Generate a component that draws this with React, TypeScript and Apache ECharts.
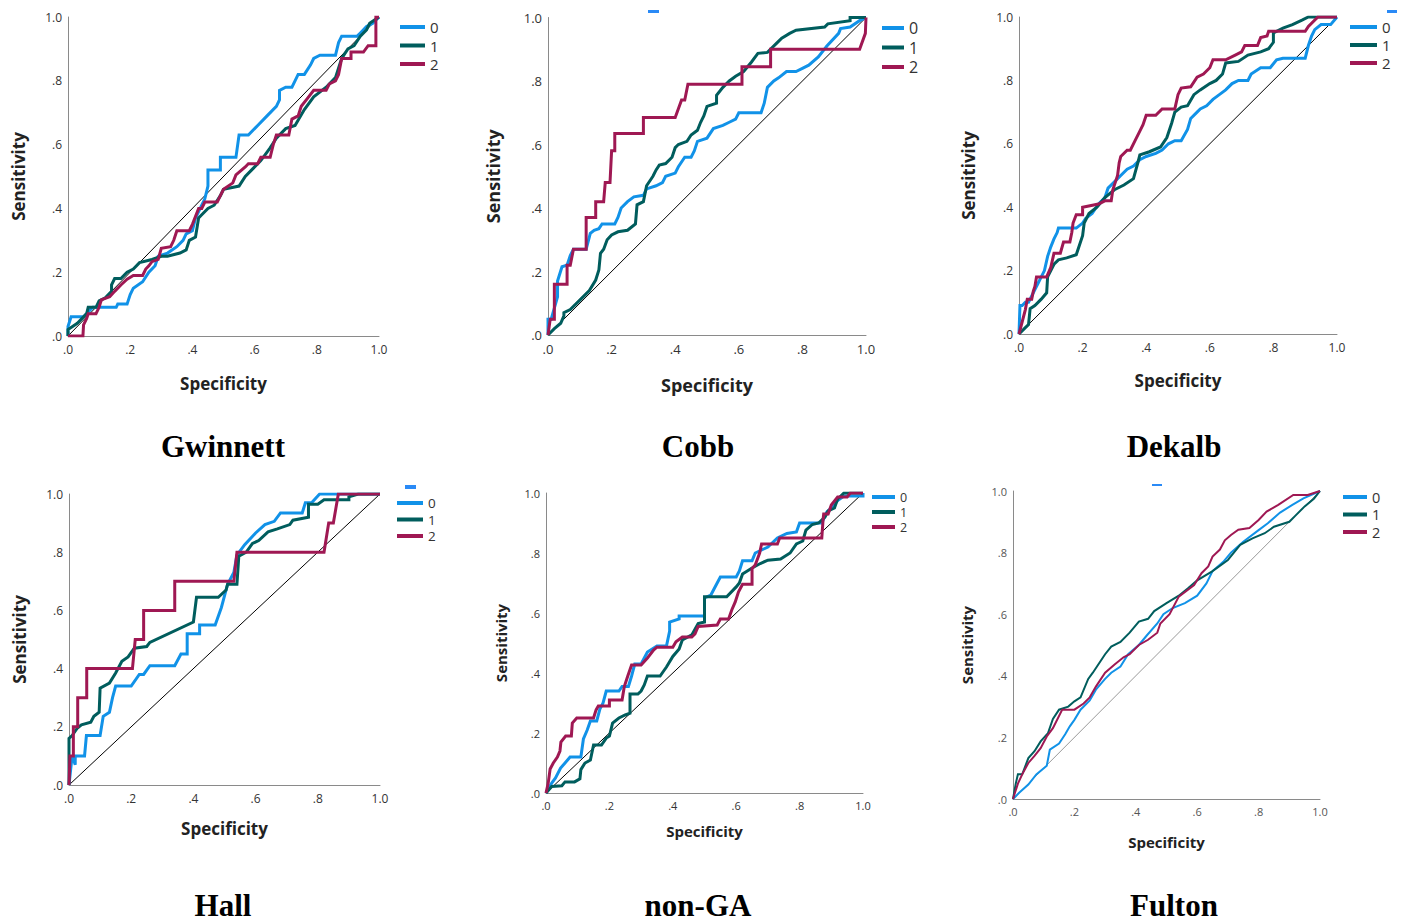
import React, { useEffect, useRef } from "react";
import * as echarts from "echarts";

// ---------- data ----------
const TICK_LABELS = [".0", ".2", ".4", ".6", ".8", "1.0"];
const GROUPS = ["0", "1", "2"];
const PANEL_TITLES = ["Gwinnett", "Cobb", "Dekalb", "Hall", "non-GA", "Fulton"];
const X_NAME = "Specificity";
const Y_NAME = "Sensitivity";
const DIAGONAL = [[0, 0], [1, 1]];

const gwinnett0 = [[0,0],[0,0.03],[0.01,0.06],[0.05,0.06],[0.08,0.09],[0.155,0.09],[0.16,0.10],[0.19,0.10],[0.2,0.13],[0.21,0.15],[0.24,0.17],[0.26,0.2],[0.28,0.22],[0.29,0.25],[0.32,0.26],[0.35,0.28],[0.37,0.30],[0.38,0.32],[0.4,0.33],[0.41,0.37],[0.43,0.41],[0.44,0.43],[0.45,0.47],[0.45,0.52],[0.49,0.52],[0.49,0.56],[0.54,0.56],[0.55,0.63],[0.58,0.63],[0.61,0.66],[0.64,0.69],[0.67,0.72],[0.68,0.74],[0.68,0.77],[0.70,0.78],[0.72,0.78],[0.73,0.80],[0.74,0.82],[0.76,0.82],[0.78,0.85],[0.79,0.87],[0.81,0.88],[0.86,0.88],[0.87,0.92],[0.88,0.94],[0.93,0.94],[0.94,0.95],[0.96,0.97],[0.98,0.98],[1,1]];
const gwinnett1 = [[0,0],[0,0.02],[0.03,0.04],[0.06,0.07],[0.065,0.09],[0.09,0.09],[0.10,0.11],[0.12,0.12],[0.14,0.14],[0.14,0.16],[0.15,0.18],[0.17,0.18],[0.19,0.20],[0.21,0.21],[0.23,0.23],[0.27,0.24],[0.30,0.25],[0.32,0.25],[0.36,0.26],[0.38,0.27],[0.39,0.30],[0.41,0.31],[0.42,0.37],[0.43,0.38],[0.45,0.40],[0.47,0.41],[0.49,0.44],[0.50,0.46],[0.55,0.47],[0.57,0.50],[0.62,0.55],[0.65,0.59],[0.67,0.62],[0.70,0.65],[0.73,0.66],[0.76,0.71],[0.79,0.75],[0.83,0.78],[0.86,0.81],[0.88,0.87],[0.90,0.90],[0.92,0.91],[0.94,0.94],[0.96,0.96],[0.97,0.98],[1,1]];
const gwinnett2 = [[0,0],[0.048,0],[0.05,0.035],[0.06,0.055],[0.065,0.07],[0.09,0.07],[0.10,0.09],[0.107,0.113],[0.134,0.123],[0.15,0.14],[0.17,0.16],[0.19,0.178],[0.21,0.19],[0.24,0.19],[0.25,0.21],[0.26,0.22],[0.27,0.233],[0.29,0.24],[0.30,0.275],[0.33,0.28],[0.34,0.30],[0.35,0.33],[0.39,0.33],[0.40,0.35],[0.42,0.40],[0.43,0.40],[0.44,0.42],[0.48,0.42],[0.49,0.44],[0.50,0.46],[0.53,0.48],[0.54,0.505],[0.57,0.53],[0.58,0.54],[0.61,0.54],[0.62,0.56],[0.65,0.56],[0.66,0.60],[0.67,0.63],[0.71,0.63],[0.72,0.68],[0.74,0.69],[0.75,0.72],[0.77,0.745],[0.79,0.77],[0.83,0.77],[0.84,0.79],[0.86,0.80],[0.87,0.82],[0.88,0.87],[0.91,0.87],[0.91,0.89],[0.95,0.89],[0.965,0.91],[0.99,0.91],[0.99,1.0],[1,1]];

const cobb0 = [[0,0],[0,0.05],[0.01,0.05],[0.03,0.12],[0.03,0.17],[0.044,0.215],[0.06,0.22],[0.07,0.25],[0.08,0.27],[0.12,0.27],[0.133,0.32],[0.145,0.33],[0.16,0.335],[0.17,0.35],[0.21,0.35],[0.22,0.37],[0.23,0.40],[0.25,0.42],[0.27,0.435],[0.30,0.44],[0.31,0.46],[0.34,0.47],[0.36,0.48],[0.37,0.50],[0.40,0.51],[0.41,0.53],[0.43,0.56],[0.45,0.56],[0.46,0.58],[0.47,0.61],[0.50,0.62],[0.52,0.65],[0.55,0.66],[0.57,0.67],[0.59,0.68],[0.60,0.70],[0.67,0.70],[0.68,0.73],[0.69,0.78],[0.71,0.80],[0.725,0.81],[0.75,0.83],[0.78,0.83],[0.80,0.84],[0.82,0.85],[0.85,0.876],[0.877,0.91],[0.914,0.95],[0.92,0.965],[0.95,0.97],[0.98,0.99],[1,1]];
const cobb1 = [[0,0],[0.02,0.02],[0.04,0.037],[0.05,0.06],[0.05,0.07],[0.07,0.08],[0.10,0.11],[0.13,0.14],[0.15,0.173],[0.16,0.205],[0.165,0.257],[0.175,0.27],[0.186,0.30],[0.20,0.315],[0.22,0.325],[0.25,0.33],[0.275,0.35],[0.28,0.41],[0.30,0.42],[0.31,0.47],[0.33,0.50],[0.34,0.52],[0.35,0.535],[0.37,0.54],[0.39,0.56],[0.40,0.59],[0.41,0.60],[0.437,0.61],[0.45,0.63],[0.47,0.645],[0.48,0.67],[0.49,0.69],[0.50,0.72],[0.53,0.73],[0.53,0.755],[0.55,0.78],[0.57,0.80],[0.59,0.815],[0.615,0.83],[0.64,0.86],[0.66,0.887],[0.69,0.89],[0.72,0.92],[0.735,0.935],[0.76,0.95],[0.78,0.96],[0.87,0.97],[0.88,0.98],[0.95,0.99],[0.95,1.0],[1,1]];
const cobb2 = [[0,0],[0.007,0.05],[0.02,0.05],[0.02,0.16],[0.06,0.16],[0.06,0.22],[0.07,0.22],[0.08,0.27],[0.12,0.27],[0.12,0.37],[0.15,0.37],[0.15,0.42],[0.175,0.42],[0.18,0.48],[0.195,0.48],[0.20,0.58],[0.21,0.58],[0.21,0.635],[0.30,0.635],[0.30,0.685],[0.40,0.685],[0.42,0.74],[0.43,0.74],[0.44,0.79],[0.61,0.79],[0.61,0.845],[0.70,0.845],[0.70,0.90],[0.98,0.90],[0.998,0.95],[1,1]];

const dekalb0 = [[0,0],[0.003,0.09],[0.01,0.09],[0.02,0.10],[0.03,0.10],[0.04,0.12],[0.05,0.14],[0.06,0.16],[0.07,0.18],[0.08,0.20],[0.09,0.245],[0.10,0.275],[0.11,0.30],[0.12,0.32],[0.124,0.334],[0.18,0.334],[0.20,0.35],[0.21,0.365],[0.23,0.38],[0.25,0.41],[0.27,0.43],[0.28,0.46],[0.30,0.48],[0.32,0.50],[0.34,0.52],[0.36,0.53],[0.38,0.55],[0.40,0.56],[0.43,0.57],[0.45,0.58],[0.47,0.60],[0.49,0.61],[0.51,0.61],[0.53,0.645],[0.54,0.68],[0.56,0.70],[0.57,0.71],[0.59,0.72],[0.61,0.74],[0.63,0.755],[0.65,0.77],[0.67,0.79],[0.69,0.80],[0.72,0.80],[0.73,0.82],[0.76,0.84],[0.79,0.84],[0.81,0.865],[0.83,0.87],[0.90,0.87],[0.91,0.91],[0.92,0.94],[0.93,0.96],[0.95,0.976],[0.98,0.976],[1,1]];
const dekalb1 = [[0,0],[0.02,0.02],[0.03,0.03],[0.035,0.08],[0.05,0.09],[0.07,0.11],[0.087,0.13],[0.09,0.18],[0.10,0.20],[0.11,0.22],[0.124,0.234],[0.15,0.24],[0.18,0.25],[0.19,0.28],[0.20,0.31],[0.205,0.35],[0.22,0.38],[0.245,0.40],[0.27,0.43],[0.30,0.455],[0.33,0.47],[0.36,0.49],[0.375,0.545],[0.38,0.565],[0.41,0.575],[0.445,0.59],[0.465,0.62],[0.48,0.665],[0.49,0.70],[0.51,0.716],[0.53,0.72],[0.55,0.755],[0.57,0.77],[0.60,0.79],[0.62,0.80],[0.64,0.82],[0.65,0.855],[0.69,0.86],[0.72,0.88],[0.76,0.89],[0.785,0.90],[0.80,0.92],[0.80,0.95],[0.83,0.965],[0.86,0.976],[0.89,0.99],[0.91,1.0],[1,1]];
const dekalb2 = [[0,0],[0.02,0.077],[0.026,0.11],[0.04,0.11],[0.045,0.135],[0.05,0.15],[0.055,0.18],[0.087,0.18],[0.10,0.21],[0.11,0.255],[0.13,0.255],[0.14,0.29],[0.16,0.29],[0.166,0.32],[0.17,0.35],[0.18,0.376],[0.20,0.376],[0.20,0.40],[0.25,0.41],[0.27,0.42],[0.29,0.42],[0.295,0.455],[0.31,0.50],[0.315,0.54],[0.32,0.56],[0.34,0.58],[0.35,0.58],[0.365,0.61],[0.38,0.64],[0.39,0.66],[0.40,0.69],[0.43,0.69],[0.45,0.71],[0.49,0.71],[0.50,0.755],[0.51,0.776],[0.54,0.78],[0.56,0.81],[0.58,0.82],[0.60,0.84],[0.61,0.865],[0.65,0.865],[0.68,0.88],[0.70,0.89],[0.71,0.91],[0.75,0.91],[0.76,0.935],[0.78,0.94],[0.785,0.955],[0.90,0.955],[0.91,0.97],[0.94,1.0],[1,1]];

const hall0 = [[0,0],[0.01,0.10],[0.02,0.07],[0.02,0.10],[0.05,0.10],[0.056,0.17],[0.10,0.17],[0.11,0.236],[0.13,0.25],[0.14,0.30],[0.15,0.34],[0.20,0.34],[0.226,0.38],[0.24,0.38],[0.26,0.41],[0.34,0.41],[0.36,0.45],[0.38,0.45],[0.38,0.52],[0.42,0.52],[0.42,0.55],[0.47,0.55],[0.49,0.61],[0.51,0.69],[0.53,0.73],[0.54,0.79],[0.565,0.826],[0.60,0.866],[0.63,0.895],[0.66,0.906],[0.68,0.935],[0.75,0.935],[0.76,0.97],[0.78,0.97],[0.806,1.0],[1,1]];
const hall1 = [[0,0],[0,0.16],[0.01,0.17],[0.027,0.196],[0.04,0.207],[0.07,0.216],[0.08,0.236],[0.097,0.25],[0.10,0.333],[0.13,0.35],[0.15,0.385],[0.17,0.425],[0.19,0.44],[0.21,0.47],[0.25,0.476],[0.26,0.49],[0.40,0.56],[0.41,0.645],[0.48,0.645],[0.505,0.67],[0.51,0.69],[0.54,0.69],[0.546,0.786],[0.57,0.80],[0.59,0.83],[0.61,0.84],[0.64,0.87],[0.67,0.88],[0.71,0.895],[0.72,0.91],[0.77,0.92],[0.77,0.965],[0.80,0.965],[0.82,0.98],[0.90,0.98],[0.90,0.99],[0.93,1.0],[1,1]];
const hall2 = [[0,0],[0.003,0.10],[0.014,0.10],[0.014,0.20],[0.028,0.20],[0.028,0.30],[0.057,0.30],[0.057,0.40],[0.204,0.40],[0.213,0.50],[0.24,0.50],[0.24,0.60],[0.34,0.60],[0.34,0.70],[0.53,0.70],[0.54,0.80],[0.82,0.80],[0.835,0.90],[0.85,0.90],[0.866,1.0],[1,1]];

const nonGA0 = [[0,0],[0.018,0.033],[0.03,0.05],[0.046,0.083],[0.06,0.10],[0.076,0.12],[0.11,0.12],[0.118,0.18],[0.13,0.21],[0.14,0.24],[0.16,0.24],[0.17,0.28],[0.18,0.30],[0.19,0.34],[0.23,0.34],[0.24,0.355],[0.26,0.355],[0.27,0.39],[0.28,0.43],[0.30,0.43],[0.31,0.45],[0.32,0.47],[0.35,0.49],[0.38,0.49],[0.39,0.54],[0.39,0.57],[0.42,0.58],[0.42,0.59],[0.50,0.59],[0.50,0.65],[0.52,0.66],[0.54,0.70],[0.55,0.72],[0.60,0.72],[0.61,0.74],[0.62,0.774],[0.65,0.774],[0.66,0.80],[0.68,0.81],[0.70,0.82],[0.73,0.85],[0.76,0.865],[0.79,0.87],[0.80,0.90],[0.87,0.90],[0.886,0.937],[0.90,0.95],[0.92,0.975],[0.94,0.99],[1,0.99],[1,1]];
const nonGA1 = [[0,0],[0.018,0.022],[0.05,0.024],[0.06,0.037],[0.09,0.037],[0.107,0.047],[0.11,0.078],[0.123,0.10],[0.14,0.11],[0.15,0.16],[0.175,0.16],[0.19,0.183],[0.20,0.19],[0.21,0.233],[0.23,0.25],[0.25,0.26],[0.265,0.266],[0.265,0.33],[0.29,0.33],[0.30,0.34],[0.31,0.36],[0.32,0.39],[0.36,0.39],[0.37,0.405],[0.38,0.42],[0.40,0.455],[0.42,0.48],[0.43,0.51],[0.46,0.527],[0.48,0.565],[0.50,0.57],[0.50,0.654],[0.57,0.654],[0.60,0.687],[0.61,0.70],[0.62,0.73],[0.65,0.75],[0.676,0.765],[0.70,0.776],[0.74,0.78],[0.77,0.80],[0.79,0.83],[0.81,0.84],[0.82,0.876],[0.84,0.895],[0.86,0.90],[0.88,0.92],[0.89,0.94],[0.91,0.95],[0.92,0.98],[0.94,1.0],[1,1]];
const nonGA2 = [[0,0],[0.007,0.033],[0.013,0.08],[0.023,0.10],[0.036,0.12],[0.044,0.14],[0.047,0.17],[0.062,0.19],[0.08,0.19],[0.083,0.233],[0.097,0.25],[0.15,0.25],[0.158,0.277],[0.165,0.29],[0.20,0.29],[0.20,0.31],[0.24,0.31],[0.247,0.355],[0.258,0.39],[0.27,0.427],[0.30,0.427],[0.32,0.45],[0.34,0.477],[0.35,0.486],[0.40,0.486],[0.41,0.504],[0.43,0.52],[0.46,0.52],[0.47,0.53],[0.48,0.555],[0.54,0.56],[0.55,0.58],[0.576,0.58],[0.586,0.61],[0.597,0.637],[0.607,0.67],[0.62,0.696],[0.65,0.696],[0.65,0.748],[0.66,0.76],[0.674,0.80],[0.68,0.83],[0.73,0.83],[0.737,0.85],[0.87,0.85],[0.874,0.91],[0.876,0.93],[0.89,0.93],[0.90,0.96],[0.92,0.987],[0.95,0.987],[0.96,1.0],[1,1]];

const fulton0 = [[0,0],[0.02,0.02],[0.05,0.047],[0.076,0.08],[0.11,0.108],[0.12,0.16],[0.15,0.18],[0.17,0.21],[0.185,0.236],[0.20,0.257],[0.22,0.29],[0.25,0.32],[0.27,0.355],[0.30,0.39],[0.32,0.41],[0.35,0.43],[0.375,0.47],[0.41,0.50],[0.435,0.53],[0.47,0.57],[0.49,0.60],[0.52,0.62],[0.56,0.636],[0.60,0.66],[0.63,0.70],[0.65,0.74],[0.685,0.77],[0.71,0.80],[0.75,0.835],[0.80,0.873],[0.83,0.895],[0.87,0.93],[0.91,0.955],[0.946,0.976],[1,1]];
const fulton1 = [[0,0],[0.009,0.05],[0.016,0.08],[0.03,0.08],[0.05,0.133],[0.07,0.155],[0.09,0.187],[0.114,0.214],[0.13,0.26],[0.15,0.29],[0.18,0.30],[0.20,0.317],[0.22,0.33],[0.245,0.39],[0.26,0.41],[0.28,0.44],[0.30,0.47],[0.32,0.495],[0.35,0.51],[0.38,0.54],[0.41,0.576],[0.44,0.585],[0.46,0.61],[0.50,0.636],[0.54,0.66],[0.57,0.684],[0.60,0.71],[0.65,0.74],[0.70,0.776],[0.74,0.825],[0.78,0.846],[0.82,0.863],[0.85,0.884],[0.90,0.90],[0.92,0.92],[0.95,0.95],[0.98,0.975],[1,1]];
const fulton2 = [[0,0],[0.016,0.05],[0.03,0.08],[0.05,0.117],[0.07,0.14],[0.09,0.165],[0.11,0.203],[0.13,0.23],[0.16,0.29],[0.20,0.29],[0.23,0.31],[0.25,0.33],[0.27,0.365],[0.30,0.41],[0.33,0.436],[0.36,0.46],[0.38,0.47],[0.41,0.50],[0.44,0.517],[0.47,0.54],[0.48,0.57],[0.51,0.60],[0.54,0.657],[0.59,0.695],[0.614,0.733],[0.636,0.755],[0.65,0.787],[0.674,0.81],[0.69,0.84],[0.71,0.857],[0.734,0.874],[0.77,0.88],[0.80,0.906],[0.826,0.933],[0.864,0.955],[0.913,0.987],[0.96,0.987],[1,1]];

const PANEL_CURVES = [
  [gwinnett0, gwinnett1, gwinnett2],
  [cobb0, cobb1, cobb2],
  [dekalb0, dekalb1, dekalb2],
  [hall0, hall1, hall2],
  [nonGA0, nonGA1, nonGA2],
  [fulton0, fulton1, fulton2],
];

// ---------- styling / layout ----------
const COLORS = ["#1192e8", "#005d5d", "#9f1853"];

const LAYOUT = [
  { l: 68, r: 379, t: 17, b: 336, tick: 12, name: 17, xGap: 39, yGap: 41, lx: 400, ly: 27, sp: 18.5, lf: 15, lw: 25, tx: 223, ty: 446, lw2: 3, diag: "#000" },
  { l: 548, r: 866, t: 17.5, b: 335, tick: 13, name: 18, xGap: 41, yGap: 46, lx: 882, ly: 28, sp: 19.5, lf: 16, lw: 22, tx: 698, ty: 446, lw2: 3, diag: "#000" },
  { l: 1019, r: 1337, t: 17, b: 334, tick: 12, name: 17, xGap: 38, yGap: 42, lx: 1350, ly: 27, sp: 18, lf: 15, lw: 27, tx: 1174, ty: 446, lw2: 3, diag: "#000" },
  { l: 69, r: 380, t: 494, b: 785, tick: 12, name: 17, xGap: 35, yGap: 41, lx: 397, ly: 503, sp: 16.5, lf: 13.5, lw: 26, tx: 223, ty: 905, lw2: 3, diag: "#000" },
  { l: 546, r: 863, t: 493, b: 793, tick: 11, name: 15, xGap: 30, yGap: 38, lx: 872, ly: 497, sp: 15, lf: 12.5, lw: 23, tx: 698, ty: 905, lw2: 3, diag: "#000" },
  { l: 1013, r: 1320, t: 491, b: 799, tick: 11, name: 15, xGap: 35, yGap: 39, lx: 1343, ly: 497, sp: 17.5, lf: 14.5, lw: 24, tx: 1174, ty: 905, lw2: 2, diag: "#999" },
];

const DASHES = [
  { x: 648, y: 10, w: 11, h: 3 },
  { x: 1387, y: 10, w: 10, h: 3 },
  { x: 405, y: 485, w: 11, h: 4 },
  { x: 1152, y: 484, w: 10, h: 2 },
];

const FONT = "'Open Sans', 'DejaVu Sans', sans-serif";

function buildOption() {
  const grid = LAYOUT.map((L) => ({ left: L.l, top: L.t, width: L.r - L.l, height: L.b - L.t, containLabel: false }));
  const fmt = (v: number) => TICK_LABELS[Math.round(v * 5)];
  const xAxis = LAYOUT.map((L, i) => ({
    type: "value", gridIndex: i, min: 0, max: 1, interval: 0.2,
    name: X_NAME, nameLocation: "middle", nameGap: L.xGap,
    nameTextStyle: { fontSize: L.name, fontWeight: "bold", color: "#222", fontFamily: FONT },
    axisLine: { show: true, lineStyle: { color: "#8a8a8a", width: 1 } },
    axisTick: { show: false }, splitLine: { show: false },
    axisLabel: { formatter: fmt, fontSize: L.tick, color: i === 5 ? "#555" : "#333", margin: 7, fontFamily: FONT },
  }));
  const yAxis = LAYOUT.map((L, i) => ({
    type: "value", gridIndex: i, min: 0, max: 1, interval: 0.2,
    name: Y_NAME, nameLocation: "middle", nameGap: L.yGap,
    nameTextStyle: { fontSize: L.name, fontWeight: "bold", color: "#222", fontFamily: FONT },
    axisLine: { show: true, lineStyle: { color: "#8a8a8a", width: 1 } },
    axisTick: { show: false }, splitLine: { show: false },
    axisLabel: { formatter: fmt, fontSize: L.tick, color: i === 5 ? "#555" : "#333", margin: 6, fontFamily: FONT },
  }));
  const series: any[] = [];
  PANEL_CURVES.forEach((curves, i) => {
    const L = LAYOUT[i];
    series.push({
      type: "line", name: "ref", xAxisIndex: i, yAxisIndex: i, data: DIAGONAL,
      symbol: "none", silent: true, lineStyle: { color: L.diag, width: 1 }, z: 1,
    });
    curves.forEach((pts, g) => {
      series.push({
        type: "line", name: GROUPS[g], xAxisIndex: i, yAxisIndex: i, data: pts,
        symbol: "none", showSymbol: false, color: COLORS[g],
        lineStyle: { color: COLORS[g], width: L.lw2, join: "miter" }, z: 2 + g,
      });
    });
  });
  const legend = LAYOUT.map((L) => ({
    data: GROUPS, orient: "vertical", left: L.lx, top: L.ly - L.sp / 2, padding: 0,
    itemGap: 0, itemWidth: L.lw, itemHeight: 4, icon: "rect", selectedMode: false,
    textStyle: { fontSize: L.lf, lineHeight: L.sp, color: "#333", fontFamily: FONT, padding: [0, 0, 0, 0] },
  }));
  const graphic: any[] = [];
  LAYOUT.forEach((L, i) => {
    graphic.push({
      type: "text", x: L.tx, y: L.ty,
      style: {
        text: PANEL_TITLES[i], fill: "#000", fontSize: 31, fontWeight: "bold",
        fontFamily: "'Liberation Serif', 'Times New Roman', serif",
        align: "center", verticalAlign: "middle", textAlign: "center", textVerticalAlign: "middle",
      },
    });
  });
  DASHES.forEach((d) => {
    graphic.push({ type: "rect", shape: { x: d.x, y: d.y, width: d.w, height: d.h }, style: { fill: "#2a8af6" } });
  });
  return { animation: false, backgroundColor: "#fff", grid, xAxis, yAxis, series, legend, graphic };
}

export default function App() {
  const ref = useRef<HTMLDivElement>(null);
  useEffect(() => {
    if (!ref.current) return;
    const chart = echarts.init(ref.current, null, { renderer: "svg" });
    chart.setOption(buildOption() as any);
    return () => chart.dispose();
  }, []);
  return <div ref={ref} style={{ position: "absolute", left: 0, top: 0, width: 1406, height: 924, background: "#fff" }} />;
}
